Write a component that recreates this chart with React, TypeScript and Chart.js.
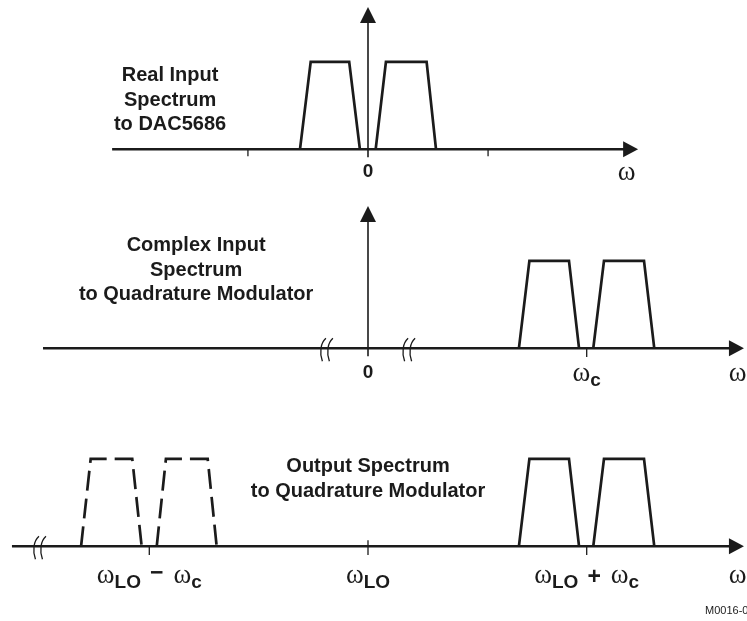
import { useEffect, useRef } from "react";
import { Chart, registerables } from "chart.js";

Chart.register(...registerables);

// ---------------- data (x in units of ωc, relative to 0 / ωLO; y = normalised amplitude) ----------------
const bandLevels = [0, 1, 1, 0];

// Real input spectrum to DAC5686
const realBandNeg = [-0.311, -0.262, -0.086, -0.037];
const realBandPos = [0.035, 0.082, 0.268, 0.311];
const realTicks = [-0.549, 0.549];
const realTickLabels = [{ x: 0, text: "0" }];
const realTitle = ["Real Input", "Spectrum", "to DAC5686"];

// Complex input spectrum to quadrature modulator
const upperBandA = [0.69, 0.738, 0.919, 0.965];
const upperBandB = [1.03, 1.079, 1.262, 1.309];
const complexTicks = [1];
const complexBreaks = [-0.188, 0.188];
const complexTickLabels = [
  { x: 0, text: "0" },
  { x: 1, text: "ω_c" },
];
const complexTitle = ["Complex Input", "Spectrum", "to Quadrature Modulator"];

// Output spectrum of quadrature modulator
const lowerBandA = [-1.312, -1.268, -1.078, -1.035];
const lowerBandB = [-0.966, -0.924, -0.733, -0.692];
const outputTicks = [-1, 0, 1];
const outputBreaks = [-1.5];
const outputTickLabels = [
  { x: -1, text: "ω_LO − ω_c" },
  { x: 0, text: "ω_LO" },
  { x: 1, text: "ω_LO + ω_c" },
];
const outputTitle = ["Output Spectrum", "to Quadrature Modulator"];
const figureId = "M0016-01";

// axis extents [start, arrow tip]
const realAxis = [-1.17, 1.235];
const complexAxis = [-1.486, 1.719];
const outputAxis = [-1.628, 1.719];
const verticalAxisTop = 1.626;

// ---------------- layout / style ----------------
const INK = "#1b1b1b";
const W = 747;
const UNIT_X = 218.7; // px per ωc
const UNIT_Y = 87.5; // px per amplitude unit
const ORIGIN_X = 368; // px of ω = 0
const BASE_Y = 149.3; // px of axis inside each panel canvas
const SANS = '"Liberation Sans", Arial, sans-serif';
const SERIF = '"Liberation Serif", "Times New Roman", serif';
const TITLE_FONT = `bold 20px ${SANS}`;
const OMEGA_FONT = `27px ${SERIF}`;
const SUB_FONT = `bold 19px ${SANS}`;
const OP_FONT = `bold 23px ${SANS}`;
const DIGIT_FONT = `bold 19px ${SANS}`;

type Pt = { x: number; y: number };
const zip = (xs: number[], ys: number[]): Pt[] => xs.map((x, i) => ({ x, y: ys[i] }));

function lineDs(data: Pt[], width: number, dash: number[] = []) {
  return {
    data,
    showLine: true,
    borderColor: INK,
    backgroundColor: INK,
    borderWidth: width,
    borderDash: dash,
    pointRadius: 0,
    pointHoverRadius: 0,
    fill: false,
    tension: 0,
    borderCapStyle: "butt",
    borderJoinStyle: "miter",
  } as any;
}

type Run = { t: string; font: string; dy: number; gapBefore?: number; gapAfter?: number };

function parseLabel(label: string): Run[] {
  const runs: Run[] = [];
  for (const word of label.split(" ")) {
    if (word === "−" || word === "+") {
      runs.push({ t: word, font: OP_FONT, dy: word === "−" ? 32 : 36, gapBefore: 9, gapAfter: 10 });
    } else if (word.includes("_")) {
      const [base, sub] = word.split("_");
      runs.push({ t: base, font: OMEGA_FONT, dy: 35 });
      runs.push({ t: sub, font: SUB_FONT, dy: 40 });
    } else {
      runs.push({ t: word, font: DIGIT_FONT, dy: 32 });
    }
  }
  return runs;
}

function drawRuns(ctx: CanvasRenderingContext2D, runs: Run[], cx: number, baseY: number) {
  const widths = runs.map((r) => {
    ctx.font = r.font;
    return ctx.measureText(r.t).width + (r.gapBefore || 0) + (r.gapAfter || 0);
  });
  const total = widths.reduce((a, b) => a + b, 0);
  let x = cx - total / 2;
  runs.forEach((r, i) => {
    ctx.font = r.font;
    ctx.fillText(r.t, x + (r.gapBefore || 0), baseY + r.dy);
    x += widths[i];
  });
}

interface PanelSpec {
  top: number;
  height: number;
  axis: number[];
  bands: { xs: number[]; dashed?: boolean }[];
  ticks: { x: number; up?: number; down: number }[];
  breaks: number[];
  tickLabels: { x: number; text: string }[];
  labelShift: number;
  omegaX: number;
  title: { x: number; dy: number; lines: string[] };
  note?: { x: number; text: string };
}

function diagramPlugin(spec: PanelSpec, withVertical: boolean) {
  return {
    id: "diagram",
    afterDatasetsDraw(chart: any) {
      const ctx: CanvasRenderingContext2D = chart.ctx;
      const xs = chart.scales.x;
      const ys = chart.scales.y;
      const y0 = ys.getPixelForValue(0);
      ctx.save();
      ctx.fillStyle = INK;
      ctx.strokeStyle = INK;

      // horizontal arrow head
      const tx = xs.getPixelForValue(spec.axis[1]);
      ctx.beginPath();
      ctx.moveTo(tx, y0);
      ctx.lineTo(tx - 15, y0 - 8);
      ctx.lineTo(tx - 15, y0 + 8);
      ctx.closePath();
      ctx.fill();

      // vertical arrow head
      if (withVertical) {
        const vx = xs.getPixelForValue(0);
        const vy = ys.getPixelForValue(verticalAxisTop);
        ctx.beginPath();
        ctx.moveTo(vx, vy);
        ctx.lineTo(vx - 8, vy + 16);
        ctx.lineTo(vx + 8, vy + 16);
        ctx.closePath();
        ctx.fill();
      }

      // axis break marks
      ctx.lineWidth = 1.3;
      for (const b of spec.breaks) {
        const bx = xs.getPixelForValue(b);
        for (const off of [-3.5, 3.5]) {
          const x = bx + off;
          ctx.beginPath();
          ctx.moveTo(x + 2.5, y0 - 10);
          ctx.bezierCurveTo(x - 3, y0 - 5, x - 4, y0 + 4, x - 1, y0 + 13);
          ctx.stroke();
        }
      }

      // tick labels
      ctx.textBaseline = "alphabetic";
      ctx.textAlign = "left";
      const ly = y0 + spec.labelShift;
      for (const l of spec.tickLabels) {
        drawRuns(ctx, parseLabel(l.text), xs.getPixelForValue(l.x), ly);
      }
      // axis name ω
      drawRuns(ctx, [{ t: "ω", font: OMEGA_FONT, dy: 35 }], xs.getPixelForValue(spec.omegaX), ly);

      // title
      ctx.font = TITLE_FONT;
      ctx.textAlign = "center";
      const tcx = xs.getPixelForValue(spec.title.x);
      spec.title.lines.forEach((line, i) => {
        ctx.fillText(line, tcx, y0 + spec.title.dy + i * 24.5);
      });

      if (spec.note) {
        ctx.font = `11px ${SANS}`;
        ctx.textAlign = "left";
        ctx.fillText(spec.note.text, xs.getPixelForValue(spec.note.x), y0 + 68);
      }
      ctx.restore();
    },
  };
}

function buildConfig(spec: PanelSpec, withVertical: boolean): any {
  const datasets: any[] = [];
  datasets.push(lineDs([{ x: spec.axis[0], y: 0 }, { x: spec.axis[1] - 0.03, y: 0 }], 2.4));
  if (withVertical) {
    datasets.push(lineDs([{ x: 0, y: -0.09 }, { x: 0, y: verticalAxisTop - 0.08 }], 1.6));
  }
  for (const t of spec.ticks) {
    datasets.push(lineDs([{ x: t.x, y: -t.down }, { x: t.x, y: t.up || 0 }], 1.3));
  }
  for (const b of spec.bands) {
    datasets.push(lineDs(zip(b.xs, bandLevels), 2.7, b.dashed ? [20, 8] : []));
  }
  return {
    type: "scatter",
    data: { datasets },
    options: {
      responsive: false,
      devicePixelRatio: 1,
      animation: false,
      events: [],
      layout: { padding: 0 },
      plugins: { legend: { display: false }, tooltip: { enabled: false }, title: { display: false } },
      scales: {
        x: { type: "linear", display: false, min: -ORIGIN_X / UNIT_X, max: (W - ORIGIN_X) / UNIT_X },
        y: { type: "linear", display: false, min: -(spec.height - BASE_Y) / UNIT_Y, max: BASE_Y / UNIT_Y },
      },
    },
    plugins: [diagramPlugin(spec, withVertical)],
  };
}

const panels: { spec: PanelSpec; vertical: boolean }[] = [
  {
    vertical: true,
    spec: {
      top: 0,
      height: 199,
      axis: realAxis,
      bands: [{ xs: realBandNeg }, { xs: realBandPos }],
      ticks: realTicks.map((x) => ({ x, down: 0.08 })),
      breaks: [],
      tickLabels: realTickLabels,
      labelShift: -4,
      omegaX: 1.183,
      title: { x: -0.905, dy: -68, lines: realTitle },
    },
  },
  {
    vertical: true,
    spec: {
      top: 199,
      height: 198,
      axis: complexAxis,
      bands: [{ xs: upperBandA }, { xs: upperBandB }],
      ticks: complexTicks.map((x) => ({ x, down: 0.1 })),
      breaks: complexBreaks,
      tickLabels: complexTickLabels,
      labelShift: -2,
      omegaX: 1.69,
      title: { x: -0.786, dy: -97, lines: complexTitle },
    },
  },
  {
    vertical: false,
    spec: {
      top: 397,
      height: 224,
      axis: outputAxis,
      bands: [
        { xs: lowerBandA, dashed: true },
        { xs: lowerBandB, dashed: true },
        { xs: upperBandA },
        { xs: upperBandB },
      ],
      ticks: outputTicks.map((x) => ({ x, down: 0.1, up: x === 0 ? 0.07 : 0 })),
      breaks: outputBreaks,
      tickLabels: outputTickLabels,
      labelShift: 2,
      omegaX: 1.69,
      title: { x: 0, dy: -74, lines: outputTitle },
      note: { x: 1.541, text: figureId },
    },
  },
];

function Panel({ spec, vertical }: { spec: PanelSpec; vertical: boolean }) {
  const ref = useRef<HTMLCanvasElement>(null);
  useEffect(() => {
    const chart = new Chart(ref.current as HTMLCanvasElement, buildConfig(spec, vertical));
    return () => chart.destroy();
  }, [spec, vertical]);
  return (
    <canvas
      ref={ref}
      width={W}
      height={spec.height}
      style={{ position: "absolute", left: 0, top: spec.top, width: W, height: spec.height, display: "block" }}
    />
  );
}

export default function App() {
  return (
    <div style={{ position: "absolute", left: 0, top: 0, width: W, height: 621, background: "#fff", overflow: "hidden" }}>
      {panels.map((p, i) => (
        <Panel key={i} spec={p.spec} vertical={p.vertical} />
      ))}
    </div>
  );
}
